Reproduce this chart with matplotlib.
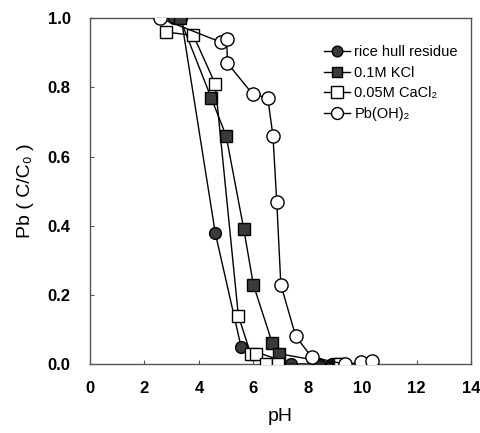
import matplotlib
matplotlib.use("Agg")
import matplotlib.pyplot as plt

plt.rcParams['font.family'] = ['Liberation Sans', 'DejaVu Sans']

rice_x = [3.1, 3.35, 4.6, 5.55, 7.4, 8.4, 8.9, 10.3]
rice_y = [1.0, 1.0, 0.38, 0.05, 0.0, 0.0, 0.0, 0.0]

kcl_x = [3.3, 4.45, 5.0, 5.65, 6.0, 6.7, 6.95, 9.1, 10.3]
kcl_y = [1.0, 0.77, 0.66, 0.39, 0.23, 0.06, 0.03, 0.0, 0.0]

cacl_x = [2.8, 3.8, 4.6, 5.45, 5.9, 6.1, 6.45, 6.9, 9.2]
cacl_y = [0.96, 0.95, 0.81, 0.14, 0.03, 0.03, 0.0, 0.0, 0.0]

pboh_x = [2.58, 4.83, 5.02, 5.05, 5.98, 6.53, 6.72, 6.86, 7.01, 7.56, 8.15, 9.37, 9.96, 10.37]
pboh_y = [1.0, 0.93, 0.94, 0.87, 0.78, 0.77, 0.66, 0.47, 0.23, 0.08, 0.02, 0.0, 0.005, 0.01]

labels = ["rice hull residue", "0.1M KCl", "0.05M CaCl\u2082", "Pb(OH)\u2082"]
x_ticks = [0, 2, 4, 6, 8, 10, 12, 14]
y_ticks = [0.0, 0.2, 0.4, 0.6, 0.8, 1.0]

fig = plt.figure(figsize=(4.8, 4.33), dpi=100)
ax = fig.add_axes([0.1875, 0.159, 0.794, 0.799])

lw = 1.0
ax.plot(rice_x, rice_y, '-o', color='black', mfc='#3a3a3a', mec='black', ms=8.5, lw=lw, label=labels[0], zorder=3)
ax.plot(kcl_x, kcl_y, '-s', color='black', mfc='#3a3a3a', mec='black', ms=8.5, lw=lw, label=labels[1], zorder=3)
ax.plot(cacl_x, cacl_y, '-s', color='black', mfc='white', mec='black', ms=9, lw=lw, label=labels[2], zorder=4)
ax.plot(pboh_x, pboh_y, '-o', color='black', mfc='white', mec='black', ms=9.5, lw=lw, label=labels[3], zorder=5)

ax.set_xlim(0, 14)
ax.set_ylim(0, 1.0)
ax.set_xticks(x_ticks)
ax.set_yticks(y_ticks)
ax.set_xticklabels([str(t) for t in x_ticks], fontweight='bold', fontsize=12)
ax.set_yticklabels([f"{t:.1f}" for t in y_ticks], fontweight='bold', fontsize=12)
ax.tick_params(axis='x', direction='in', length=3, width=0.8, color='#555555', pad=12)
ax.tick_params(axis='y', direction='in', length=3, width=0.8, color='#555555', pad=14)
for s in ax.spines.values():
    s.set_color('#555555')
    s.set_linewidth(1.0)

ax.set_xlabel('pH', fontsize=14, labelpad=9)
ax.set_ylabel('Pb ( C/C\u2080 )', fontsize=14, labelpad=10)

leg = ax.legend(loc='upper right', bbox_to_anchor=(1.0, 0.96), frameon=False,
                fontsize=10.5, handlelength=1.8, handletextpad=0.3, labelspacing=0.45,
                markerscale=0.9)

fig.savefig('out.png', dpi=100)
